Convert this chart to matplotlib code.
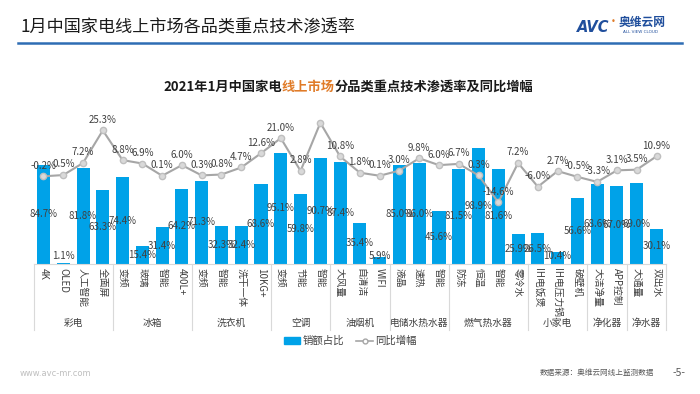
import numpy as np
import matplotlib
matplotlib.use("Agg")
import matplotlib.pyplot as plt
from matplotlib.lines import Line2D
from matplotlib.patches import Patch

plt.rcParams['font.family'] = ['Noto Sans CJK SC', 'DejaVu Sans']

# data
groups = ["彩电", "冰箱", "洗衣机", "空调", "油烟机", "电储水热水器", "燃气热水器", "小家电", "净化器", "净水器"]
group_sizes = [4, 4, 4, 3, 3, 3, 4, 3, 2, 2]
techs = ["4K", "OLED", "人工智能", "全面屏",
         "变频", "玻璃", "智能", "400L+",
         "变频", "智能", "洗干一体", "10KG+",
         "变频", "节能", "智能",
         "大风量", "自清洁", "WIFI",
         "液晶", "速热", "智能",
         "防冻", "恒温", "智能", "零冷水",
         "IH电饭煲", "IH电压力锅", "破壁机",
         "大洁净量", "APP控制",
         "大通量", "双出水"]
share = [84.7, 1.1, 81.8, 63.3,
         74.4, 15.4, 31.4, 64.2,
         71.3, 32.3, 32.4, 68.6,
         95.1, 59.8, 90.7,
         87.4, 35.4, 5.9,
         85.0, 86.0, 45.6,
         81.5, 98.9, 81.6, 25.9,
         26.5, 10.4, 56.6,
         68.6, 67.0,
         69.0, 30.1]
growth = [-0.2, 0.5, 7.2, 25.3,
          8.8, 6.9, 0.1, 6.0,
          0.3, 0.8, 4.7, 12.6,
          21.0, 2.8, 29.5,
          10.8, 1.8, 0.1,
          3.0, 9.8, 6.0,
          6.7, 0.3, -14.6, 7.2,
          -6.0, 2.7, -0.5,
          -3.3, 3.1,
          3.5, 10.9]
no_label = [14]  # label not shown in the source chart

BLUE = "#00A2E8"
GRAY = "#A6A6A6"
TXT = "#404040"

fig = plt.figure(figsize=(7, 3.94), dpi=100)
W, H = 700, 394

# page header
fig.text(20 / W, 1 - 28 / H, "1月中国家电线上市场各品类重点技术渗透率", fontsize=12.3,
         color="#1a1a1a", va="center", ha="left")
fig.add_artist(Line2D([18 / W, 682 / W], [1 - 43 / H, 1 - 43 / H], color="#2E6DB4", lw=1.8))
fig.text(577 / W, 1 - 27 / H, "AVC", fontsize=10.5, fontweight="bold", style="italic",
         color="#1F4E9C", va="center", ha="left", family="DejaVu Sans")
fig.text(611 / W, 1 - 22 / H, "•", fontsize=6, color="#E07B28", va="center", ha="left",
         family="DejaVu Sans")
fig.text(619 / W, 1 - 22 / H, "奥维云网", fontsize=8.5, fontweight="bold",
         color="#1F4E9C", va="center", ha="left")
fig.text(623 / W, 1 - 32 / H, "ALL VIEW CLOUD", fontsize=3, color="#1F4E9C",
         va="center", ha="left", family="DejaVu Sans")

ax = fig.add_axes([33.6 / W, 1 - 264 / H, 632.8 / W, 159 / H])
ax.patch.set_alpha(0)

x = np.arange(len(techs))
ax.bar(x, share, width=0.66, color=BLUE, zorder=2)
ax.set_xlim(-0.5, len(techs) - 0.5)
ax.set_ylim(0, 136)
for s in ["top", "left", "right"]:
    ax.spines[s].set_visible(False)
ax.spines["bottom"].set_color("#D9D9D9")
ax.set_yticks([])
ax.set_xticks(x)
ax.set_xticklabels(techs, rotation=270, fontsize=7, color=TXT, va="top", ha="center")
ax.tick_params(axis="x", length=0, pad=3)

for xi, v in zip(x, share):
    ax.text(xi, max(v / 2, 6.8), f"{v:.1f}%", ha="center", va="center",
            fontsize=7, color=TXT, zorder=4)

# group dividers and labels
bounds = np.concatenate([[0], np.cumsum(group_sizes)]) - 0.5
for b in bounds:
    ax.plot([b, b], [0, -0.415], color="#D9D9D9", lw=0.8, clip_on=False,
            transform=ax.get_xaxis_transform())
for g, a, b in zip(groups, bounds[:-1], bounds[1:]):
    ax.text((a + b) / 2, -0.37, g, ha="center", va="center", fontsize=7, color=TXT,
            transform=ax.get_xaxis_transform())

ax2 = ax.twinx()
ax2.set_ylim(-48.9, 39.4)
ax2.plot(x, growth, color=GRAY, lw=1.5, marker="o", markersize=4.5,
         markerfacecolor="#D9D9D9", markeredgecolor="#BFBFBF", zorder=3)
for i, (xi, v) in enumerate(zip(x, growth)):
    if i in no_label:
        continue
    ax2.annotate(f"{v:.1f}%", (xi, v), xytext=(0, 4), textcoords="offset points",
                 ha="center", va="bottom", fontsize=7, color=TXT)
ax2.axis("off")

# chart title with highlighted words, placed by measuring
r = fig.canvas.get_renderer()
parts = [("2021年1月中国家电", "#1a1a1a"), ("线上市场", "#E07B28"),
         ("分品类重点技术渗透率及同比增幅", "#1a1a1a")]
xpos = 163
for txt, col in parts:
    t = fig.text(xpos / W, 1 - 87 / H, txt, fontsize=9.5, fontweight="bold",
                 color=col, va="center", ha="left")
    xpos += t.get_window_extent(renderer=r).width

# legend
handles = [Patch(color=BLUE),
           Line2D([], [], color=GRAY, lw=1.2, marker="o", markersize=3.5,
                  markerfacecolor="white", markeredgecolor=GRAY)]
fig.legend(handles, ["销额占比", "同比增幅"], loc="center", bbox_to_anchor=(350 / W, 1 - 341 / H),
           ncol=2, frameon=False, fontsize=7.5, handlelength=1.6, handletextpad=0.2,
           columnspacing=1.2, labelcolor=TXT)

# footer
fig.text(20 / W, 1 - 374 / H, "www.avc-mr.com", fontsize=6, color="#BFBFBF", va="center",
         family="DejaVu Sans")
fig.text(540 / W, 1 - 373 / H, "数据来源：奥维云网线上监测数据", fontsize=5.5, color="#595959",
         va="center")
fig.text(673 / W, 1 - 373 / H, "-5-", fontsize=7.5, color="#595959", va="center")

fig.savefig("out.png", dpi=100)
